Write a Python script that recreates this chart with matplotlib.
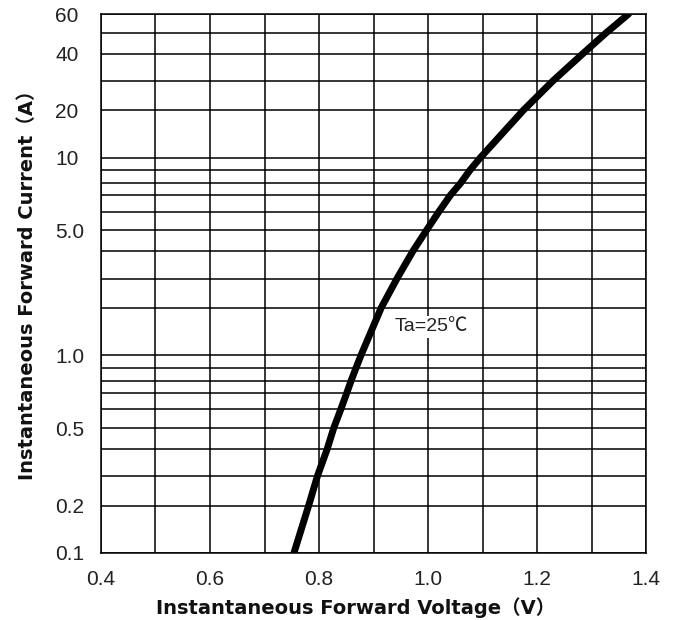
import numpy as np
import matplotlib
matplotlib.use("Agg")
import matplotlib.pyplot as plt

# forward characteristic
voltage = [0.754, 0.781, 0.797, 0.815, 0.827, 0.840, 0.851, 0.859, 0.868, 0.877,
           0.914, 0.943, 0.972, 0.997, 1.020, 1.041, 1.060, 1.077, 1.096,
           1.175, 1.229, 1.284, 1.327, 1.368]
current = [0.1, 0.2, 0.3, 0.4, 0.5, 0.6, 0.7, 0.8, 0.9, 1.0,
           2, 3, 4, 5, 6, 7, 8, 9, 10,
           20, 30, 40, 50, 60]

x_ticks = [0.4, 0.6, 0.8, 1.0, 1.2, 1.4]
x_tick_labels = ['0.4', '0.6', '0.8', '1.0', '1.2', '1.4']
x_grid = [0.5, 0.7, 0.9, 1.1, 1.3]

y_ticks = [0.1, 0.2, 0.5, 1.0, 5.0, 10, 20, 40, 60]
y_tick_labels = ['0.1', '0.2', '0.5', '1.0', '5.0', '10', '20', '40', '60']
y_grid = [0.3, 0.4, 0.6, 0.7, 0.8, 0.9, 2, 3, 4, 6, 7, 8, 9, 30, 50]

# the printed grid is not a true log grid, each decade is squashed the same way
mant = [1, 2, 3, 4, 5, 6, 7, 8, 9, 10]
frac = [0, 0.240, 0.388, 0.526, 0.632, 0.727, 0.810, 0.872, 0.937, 1.0]


def fwd(v):
    v = np.clip(np.asarray(v, dtype=float), 1e-12, None)
    d = np.floor(np.log10(v) + 1e-12)
    m = v / 10.0 ** d
    return d + np.interp(m, mant, frac)


def inv(p):
    p = np.asarray(p, dtype=float)
    d = np.floor(p)
    m = np.interp(p - d, frac, mant)
    return m * 10.0 ** d


plt.rcParams['font.family'] = ['Liberation Sans', 'Noto Sans CJK SC', 'DejaVu Sans']
label_fonts = ['DejaVu Sans', 'Noto Sans CJK SC']

fig = plt.figure(figsize=(6.83, 6.2), dpi=100)
ax = fig.add_axes([101 / 683, 1 - 553 / 620, 545 / 683, 539 / 620])

ax.set_yscale('function', functions=(fwd, inv))
ax.set_xlim(0.4, 1.4)
ax.set_ylim(0.1, 60)

ax.set_xticks(x_ticks)
ax.set_xticklabels(x_tick_labels)
ax.set_xticks(x_grid, minor=True)
ax.set_yticks(y_ticks)
ax.set_yticklabels(y_tick_labels)
ax.set_yticks(y_grid, minor=True)
ax.yaxis.set_minor_formatter(plt.NullFormatter())

ax.grid(True, which='both', color='black', linewidth=1.1)
ax.set_axisbelow(True)
for s in ax.spines.values():
    s.set_linewidth(1.1)
    s.set_color('black')

ax.tick_params(axis='both', which='both', length=0, labelsize=15, labelcolor='#222222')
ax.tick_params(axis='x', pad=12)
ax.tick_params(axis='y', pad=33)
for lbl in ax.get_yticklabels():
    lbl.set_horizontalalignment('left')

ax.plot(voltage, current, color='black', linewidth=5, solid_capstyle='round',
        solid_joinstyle='round', zorder=3)

ax.text(1.007, 1.6, 'Ta=25℃', fontsize=14, color='#222222', ha='center', va='center',
        bbox=dict(facecolor='white', edgecolor='none', pad=2), zorder=4)

ax.set_xlabel('Instantaneous Forward Voltage（V）', fontsize=14, fontweight='bold',
              color='#111111', family=label_fonts)
ax.xaxis.set_label_coords((356 - 101) / 545, -44 / 539)
ax.set_ylabel('Instantaneous Forward Current（A）', fontsize=14, fontweight='bold',
              color='#111111', family=label_fonts)
ax.yaxis.set_label_coords(-(101 - 37) / 545, 0.506)

fig.savefig('out.png', dpi=100)
